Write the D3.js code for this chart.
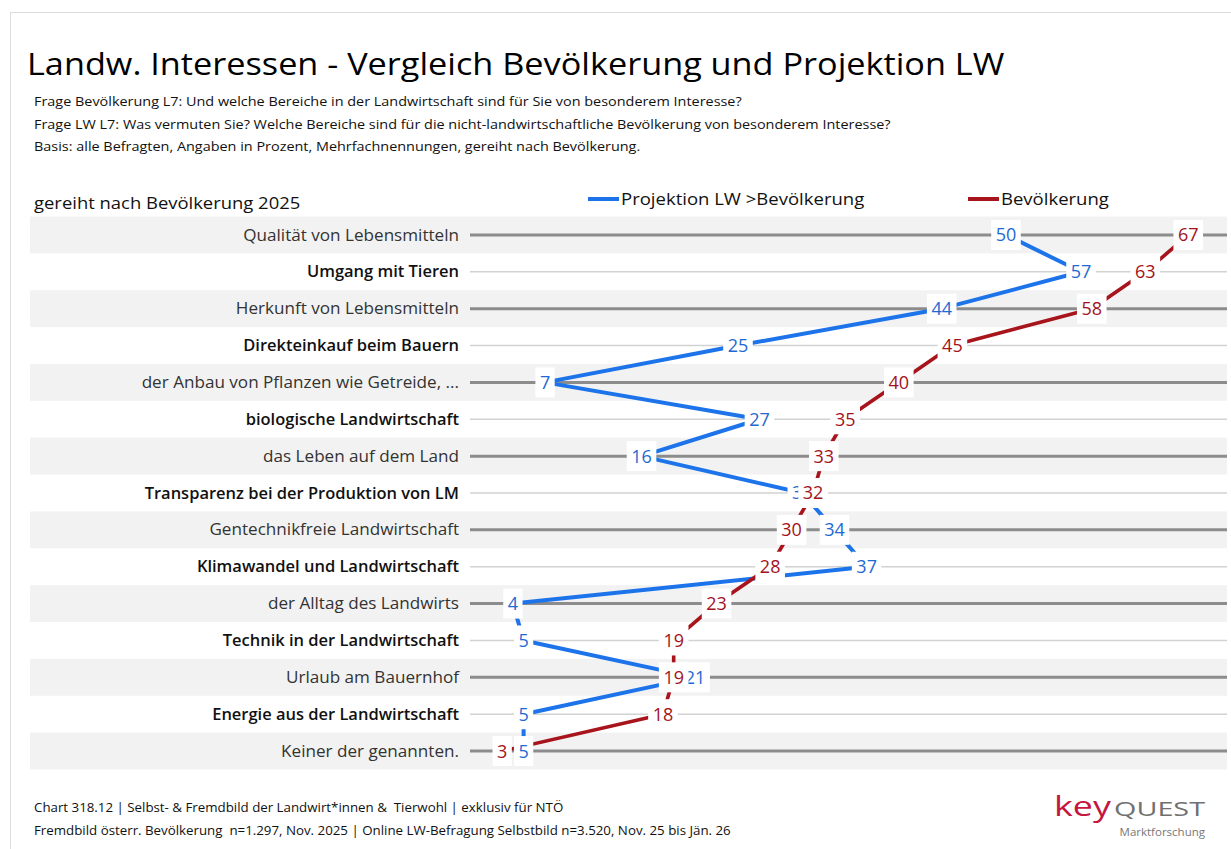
<!DOCTYPE html>
<html>
<head>
<meta charset="utf-8">
<script src="https://cdn.jsdelivr.net/npm/d3@7"></script>
<style>
  body { margin: 0; background: #fff; }
  svg { font-family: "Open Sans", "Noto Sans", sans-serif; }
</style>
</head>
<body>
<div id="chart"></div>
<script>
// categories, top to bottom (sorted by Bevölkerung)
const categories = [
  "Qualität von Lebensmitteln",
  "Umgang mit Tieren",
  "Herkunft von Lebensmitteln",
  "Direkteinkauf beim Bauern",
  "der Anbau von Pflanzen wie Getreide, ...",
  "biologische Landwirtschaft",
  "das Leben auf dem Land",
  "Transparenz bei der Produktion von LM",
  "Gentechnikfreie Landwirtschaft",
  "Klimawandel und Landwirtschaft",
  "der Alltag des Landwirts",
  "Technik in der Landwirtschaft",
  "Urlaub am Bauernhof",
  "Energie aus der Landwirtschaft",
  "Keiner der genannten."
];

const bevoelkerung = [67, 63, 58, 45, 40, 35, 33, 32, 30, 28, 23, 19, 19, 18, 3];
const projektion   = [50, 57, 44, 25, 7, 27, 16, 31, 34, 37, 4, 5, 21, 5, 5];

const seriesNames = ["Projektion LW >Bevölkerung", "Bevölkerung"];

const subtitle = [
  "Frage Bevölkerung L7: Und welche Bereiche in der Landwirtschaft sind für Sie von besonderem Interesse?",
  "Frage LW L7: Was vermuten Sie? Welche Bereiche sind für die nicht-landwirtschaftliche Bevölkerung von besonderem Interesse?",
  "Basis: alle Befragten, Angaben in Prozent, Mehrfachnennungen, gereiht nach Bevölkerung."
];

const footer = [
  "Chart 318.12 | Selbst- & Fremdbild der Landwirt*innen &  Tierwohl | exklusiv für NTÖ",
  "Fremdbild österr. Bevölkerung  n=1.297, Nov. 2025 | Online LW-Befragung Selbstbild n=3.520, Nov. 25 bis Jän. 26"
];

const width = 1231;
const height = 849;
const blue = "#1d74ea";
const blueText = "#1f69d2";
const red = "#a8141c";
const redText = "#a3121b";

const svg = d3.select("#chart")
  .append("svg")
  .attr("width", width)
  .attr("height", height);

// the source chart is a bit wider than the fonts here, so stretch texts sideways
function put(sel, x, y, sx) {
  return sel.attr("x", 0).attr("y", 0)
    .attr("transform", `translate(${x},${y}) scale(${sx},1)`);
}

// outer frame
svg.append("rect")
  .attr("x", 10.5).attr("y", 12.5)
  .attr("width", 1240).attr("height", 860)
  .attr("fill", "none")
  .attr("stroke", "#dcdcdc");

// title block
put(svg.append("text"), 27, 75, 1.105)
  .attr("font-size", 31)
  .attr("fill", "#000")
  .style("white-space", "pre")
  .text("Landw. Interessen - Vergleich Bevölkerung und Projektion LW");

subtitle.forEach((s, i) => {
  put(svg.append("text"), 34, 106 + i * 22.5, 1.11)
    .attr("font-size", 13)
    .attr("fill", "#111")
    .text(s);
});

put(svg.append("text"), 34, 209, 1.085)
  .attr("font-size", 17)
  .attr("font-weight", 500)
  .attr("fill", "#111")
  .text("gereiht nach Bevölkerung 2025");

// scales
const x = d3.scaleLinear().domain([0, 70]).range([470, 1220.4]);
const y = d3.scaleBand().domain(categories).range([216.5, 769.5]);
const yc = d => y(d) + y.bandwidth() / 2;

// alternating bands
svg.append("g")
  .selectAll("rect")
  .data(categories.filter((d, i) => i % 2 === 0))
  .join("rect")
  .attr("x", 30)
  .attr("y", d => y(d))
  .attr("width", 1197)
  .attr("height", y.bandwidth())
  .attr("fill", "#f2f2f2");

// grid lines per row
svg.append("g")
  .selectAll("line")
  .data(categories)
  .join("line")
  .attr("x1", 470).attr("x2", 1227)
  .attr("y1", d => yc(d)).attr("y2", d => yc(d))
  .attr("stroke", (d, i) => i % 2 === 0 ? "#8c8c8c" : "#d2d2d2")
  .attr("stroke-width", (d, i) => i % 2 === 0 ? 3 : 1.5);

// category labels
svg.append("g")
  .selectAll("text")
  .data(categories)
  .join("text")
  .attr("transform", (d, i) => `translate(459,${yc(d)}) scale(${i % 2 === 0 ? 1.07 : 1.03},1)`)
  .attr("dy", "0.35em")
  .attr("text-anchor", "end")
  .attr("font-size", 16)
  .attr("font-weight", (d, i) => i % 2 === 0 ? 400 : 600)
  .attr("fill", (d, i) => i % 2 === 0 ? "#333" : "#111")
  .text(d => d);

// lines
const line = d3.line()
  .x(d => x(d.v))
  .y(d => yc(d.c));

const blueData = categories.map((c, i) => ({c: c, v: projektion[i]}));
const redData = categories.map((c, i) => ({c: c, v: bevoelkerung[i]}));

svg.append("path")
  .datum(blueData)
  .attr("d", line)
  .attr("fill", "none")
  .attr("stroke", blue)
  .attr("stroke-width", 4)
  .attr("stroke-linejoin", "round");

svg.append("path")
  .datum(redData)
  .attr("d", line)
  .attr("fill", "none")
  .attr("stroke", red)
  .attr("stroke-width", 3.6)
  .attr("stroke-linejoin", "round");

// value labels with white boxes
function addLabels(data, color) {
  const g = svg.append("g")
    .selectAll("g")
    .data(data)
    .join("g")
    .attr("transform", d => `translate(${x(d.v)},${yc(d.c)})`);

  g.append("rect").attr("fill", "#fff");

  const txt = g.append("text")
    .attr("text-anchor", "middle")
    .attr("dy", "0.36em")
    .attr("font-size", 18)
    .attr("fill", color)
    .text(d => d.v);

  txt.each(function(d) {
    const w = this.getComputedTextLength() + 9;
    d3.select(this.parentNode).select("rect")
      .attr("x", -w / 2).attr("y", -15)
      .attr("width", w).attr("height", 30);
  });
}

addLabels(blueData, blueText);
addLabels(redData, redText);

// legend
const legendItems = [
  {name: seriesNames[0], color: blue, x: 588},
  {name: seriesNames[1], color: red, x: 968}
];
legendItems.forEach(item => {
  svg.append("line")
    .attr("x1", item.x).attr("x2", item.x + 31)
    .attr("y1", 199).attr("y2", 199)
    .attr("stroke", item.color)
    .attr("stroke-width", 4);
  put(svg.append("text"), item.x + 33, 205, 1.09)
    .attr("font-size", 17)
    .attr("fill", "#111")
    .text(item.name);
});

// footer
footer.forEach((s, i) => {
  put(svg.append("text"), 34, 812 + i * 23, 1.11)
    .attr("font-size", 12)
    .attr("fill", "#111")
    .style("white-space", "pre")
    .text(s);
});

// logo
put(svg.append("text"), 1054, 816, 1.28)
  .attr("font-size", 28)
  .attr("fill", "#c3173f")
  .text("key");
put(svg.append("text"), 1114, 816, 1.44)
  .attr("font-size", 20)
  .attr("fill", "#707070")
  .text("QUEST");
svg.append("text")
  .attr("x", 1205).attr("y", 836)
  .attr("text-anchor", "end")
  .attr("font-size", 11.5)
  .attr("fill", "#777")
  .text("Marktforschung");
</script>
</body>
</html>
